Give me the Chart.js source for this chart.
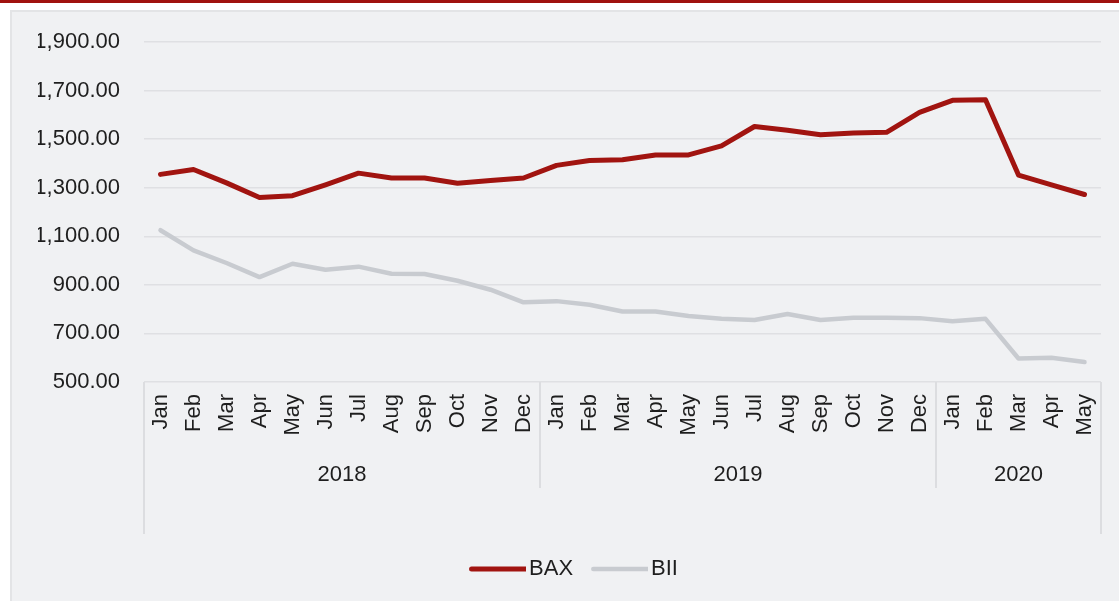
<!DOCTYPE html>
<html>
<head>
<meta charset="utf-8">
<script src="https://cdn.jsdelivr.net/npm/chart.js@4"></script>
<style>
    body { margin: 0; background: #ffffff; width: 1119px; height: 601px; overflow: hidden; }
    #topbar { position: absolute; left: 0; top: 0; width: 1119px; height: 3px; background: #a0120f; }
    #panel { position: absolute; left: 10px; top: 10px; width: 1109px; height: 591px;
             background: #f0f1f3; border-left: 2px solid #e3e4e6; border-top: 2px solid #e3e4e6; box-sizing: border-box; }
    canvas { position: absolute; left: -2px; top: -2px; }
</style>
</head>
<body>
<div id="topbar"></div>
<div id="panel"><canvas id="chart" width="1109" height="591"></canvas></div>
<script>
const months = ['Jan','Feb','Mar','Apr','May','Jun','Jul','Aug','Sep','Oct','Nov','Dec',
                'Jan','Feb','Mar','Apr','May','Jun','Jul','Aug','Sep','Oct','Nov','Dec',
                'Jan','Feb','Mar','Apr','May'];
const years = ['2018', '2019', '2020'];
const yearSpans = [12, 12, 5];

const bax = [1355, 1375, 1320, 1260, 1267, 1312, 1360, 1340, 1340, 1318, 1330, 1340,
             1392, 1412, 1415, 1435, 1435, 1472, 1552, 1537, 1518, 1525, 1528, 1610,
             1660, 1662, 1352, 1312, 1272];
const bii = [1125, 1042, 990, 932, 987, 962, 975, 946, 945, 917, 880, 828,
             833, 818, 790, 790, 772, 760, 755, 780, 755, 765, 765, 763,
             750, 760, 597, 600, 582];

const yTicks = [500, 700, 900, 1100, 1300, 1500, 1700, 1900];

const FONT = '"Liberation Sans", Arial, Helvetica, sans-serif';
const TEXT = '#1e1e1e';

// legend line drawn as a small image so the text can sit close to it
function legendLine(color, width) {
    const c = document.createElement('canvas');
    c.width = 73;
    c.height = 10;
    const g = c.getContext('2d');
    g.strokeStyle = color;
    g.lineWidth = width;
    g.lineCap = 'round';
    g.beginPath();
    g.moveTo(16 + width / 2, 5);
    g.lineTo(75 - width / 2, 5);
    g.stroke();
    return c;
}

// year separators under the month labels
const yearLines = {
    id: 'yearLines',
    afterDraw(chart) {
        const ys = chart.scales.year;
        const ctx = chart.ctx;
        const top = chart.chartArea.bottom;
        let edge = -0.5;
        const edges = [edge];
        yearSpans.forEach(n => { edge += n; edges.push(edge); });
        ctx.save();
        ctx.strokeStyle = '#dcdde0';
        ctx.lineWidth = 2;
        edges.forEach((e, k) => {
            const x = Math.round(ys.getPixelForValue(e));
            const outer = (k === 0 || k === edges.length - 1);
            ctx.beginPath();
            ctx.moveTo(x, top);
            ctx.lineTo(x, top + (outer ? 152 : 106));
            ctx.stroke();
        });
        ctx.restore();
    }
};

const LEFTPAD = 28;

new Chart(document.getElementById('chart'), {
    type: 'line',
    data: {
        labels: months,
        datasets: [{
            label: 'BAX',
            data: bax,
            borderColor: '#a11410',
            backgroundColor: '#a11410',
            borderWidth: 5,
            borderCapStyle: 'round',
            borderJoinStyle: 'round',
            pointRadius: 0,
            pointStyle: legendLine('#a11410', 5),
            tension: 0
        }, {
            label: 'BII',
            data: bii,
            borderColor: '#c8cbd0',
            backgroundColor: '#c8cbd0',
            borderWidth: 4.5,
            borderCapStyle: 'round',
            borderJoinStyle: 'round',
            pointRadius: 0,
            pointStyle: legendLine('#c8cbd0', 4.5),
            tension: 0
        }]
    },
    options: {
        responsive: false,
        animation: false,
        events: [],
        layout: { padding: { top: 32, right: 18, bottom: 11, left: LEFTPAD } },
        plugins: {
            tooltip: { enabled: false },
            legend: {
                position: 'bottom',
                labels: {
                    usePointStyle: true,
                    pointStyleWidth: 57,
                    padding: 10,
                    color: TEXT,
                    font: { family: FONT, size: 22 }
                }
            }
        },
        scales: {
            x: {
                type: 'category',
                offset: true,
                weight: 0,
                grid: { display: false, drawTicks: true, tickLength: 12 },
                border: { display: false },
                ticks: {
                    minRotation: 90,
                    maxRotation: 90,
                    autoSkip: false,
                    padding: 0,
                    color: TEXT,
                    font: { family: FONT, size: 22 }
                },
                afterFit(s) { s.height = 62; }
            },
            year: {
                type: 'linear',
                position: 'bottom',
                weight: 1,
                min: -0.5,
                max: months.length - 0.5,
                grid: { display: false },
                border: { display: false },
                afterBuildTicks(s) {
                    let start = 0;
                    s.ticks = yearSpans.map(n => {
                        const t = { value: start + (n - 1) / 2 };
                        start += n;
                        return t;
                    });
                },
                ticks: {
                    autoSkip: false,
                    maxRotation: 0,
                    padding: 10,
                    color: TEXT,
                    font: { family: FONT, size: 22 },
                    callback: (v, i) => years[i]
                },
                afterFit(s) { s.height = 104; }
            },
            y: {
                min: 500,
                max: 1900,
                afterBuildTicks(s) { s.ticks = yTicks.map(v => ({ value: v })); },
                grid: { color: '#dfe0e3', lineWidth: 1.5, drawTicks: true, tickLength: 24, tickColor: 'rgba(0,0,0,0)' },
                border: { display: false },
                ticks: {
                    padding: 0,
                    color: TEXT,
                    font: { family: FONT, size: 22 },
                    callback: v => v.toLocaleString('en-US', { minimumFractionDigits: 2, maximumFractionDigits: 2 })
                },
                afterFit(s) { s.width = 134 - LEFTPAD; }
            }
        }
    },
    plugins: [yearLines]
});
</script>
</body>
</html>
